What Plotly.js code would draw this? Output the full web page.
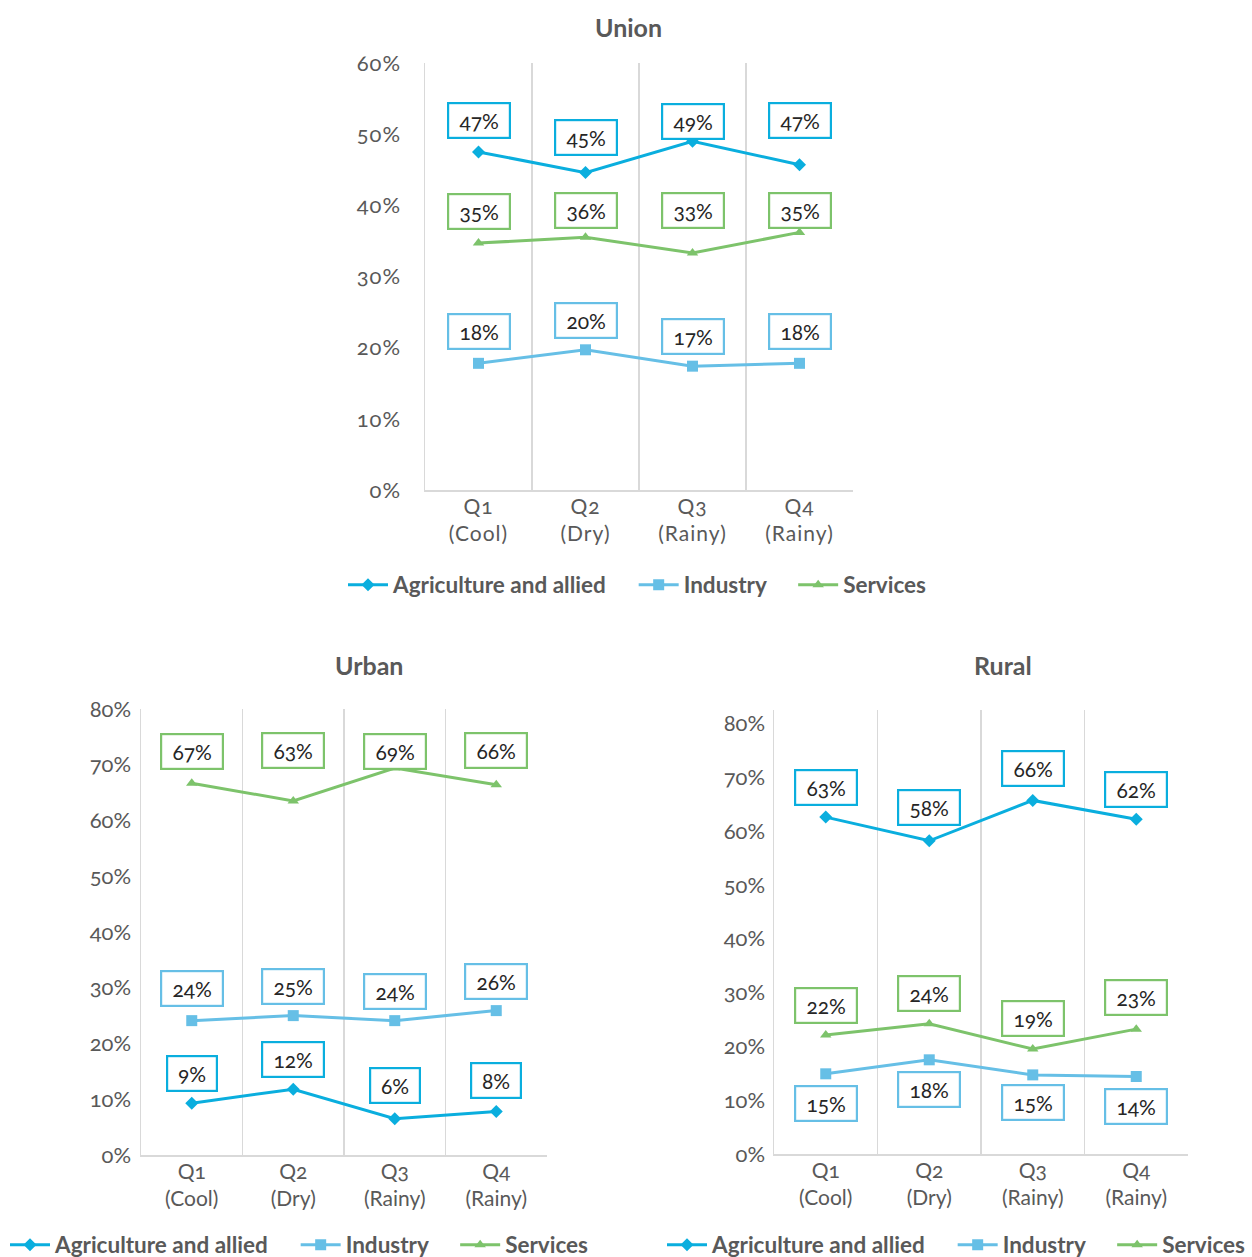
<!DOCTYPE html>
<html><head><meta charset="utf-8">
<script src="https://cdn.plot.ly/plotly-3.0.1.min.js"></script>
<style>
html,body{margin:0;padding:0;background:#fff;}
#chart{width:1252px;height:1257px;}
.js-plotly-plot text{font-feature-settings:"onum" 1;}
.js-plotly-plot .xtick text, .js-plotly-plot .ytick text{letter-spacing:1px;}
</style></head><body><div id="chart"></div>
<script>
// ---------- DATA ----------
const categories = ["Q1<br>(Cool)", "Q2<br>(Dry)", "Q3<br>(Rainy)", "Q4<br>(Rainy)"];
const seriesNames = ["Agriculture and allied", "Industry", "Services"];
const panelTitles = ["Union", "Urban", "Rural"];

// Union
const unionAgri = [47.5, 44.6, 49.0, 45.7];
const unionIndustry = [17.8, 19.7, 17.4, 17.8];
const unionServices = [34.7, 35.5, 33.3, 36.2];
const unionAgriLabels = ["47%", "45%", "49%", "47%"];
const unionIndustryLabels = ["18%", "20%", "17%", "18%"];
const unionServicesLabels = ["35%", "36%", "33%", "35%"];

// Urban
const urbanAgri = [9.3, 11.8, 6.5, 7.8];
const urbanIndustry = [24.1, 25.0, 24.1, 25.9];
const urbanServices = [66.7, 63.5, 69.4, 66.4];
const urbanAgriLabels = ["9%", "12%", "6%", "8%"];
const urbanIndustryLabels = ["24%", "25%", "24%", "26%"];
const urbanServicesLabels = ["67%", "63%", "69%", "66%"];

// Rural
const ruralAgri = [62.6, 58.2, 65.7, 62.2];
const ruralIndustry = [14.9, 17.5, 14.7, 14.4];
const ruralServices = [22.1, 24.2, 19.5, 23.2];
const ruralAgriLabels = ["63%", "58%", "66%", "62%"];
const ruralIndustryLabels = ["15%", "18%", "15%", "14%"];
const ruralServicesLabels = ["22%", "24%", "19%", "23%"];

// ---------- STYLE ----------
const colors = ["#0AAEDE", "#66BFE6", "#7DC36B"];
const symbols = ["diamond", "square", "triangle-up"];
const markerSizes = [10, 11, 10];
const FONT = "Lato, 'Open Sans', sans-serif";
const TICKC = "#595959";
const GRID = "#D9D9D9";
const PAD = "&nbsp;&nbsp;&nbsp;&nbsp;";

// label box vertical offsets (px, positive = above point)
const shifts = [
  [[31, 35, 20, 44], [32, 29, 30, 32], [32, 27, 43, 22]],
  [[30, 30, 33, 31], [32, 29, 29, 29], [32, 50, 17, 34]],
  [[30, 33, 32, 30], [-30, -30, -28, -30], [30, 30, 31, 32]]
];

const panels = [
  {vals: [unionAgri, unionIndustry, unionServices], labels: [unionAgriLabels, unionIndustryLabels, unionServicesLabels], range: [0, 60], legend: "legend"},
  {vals: [urbanAgri, urbanIndustry, urbanServices], labels: [urbanAgriLabels, urbanIndustryLabels, urbanServicesLabels], range: [0, 80], legend: "legend2"},
  {vals: [ruralAgri, ruralIndustry, ruralServices], labels: [ruralAgriLabels, ruralIndustryLabels, ruralServicesLabels], range: [0, 82.5], legend: "legend3"}
];

const W = 1252, H = 1257;
const px = v => v / W;
const py = v => 1 - v / H;
// pixel boxes [left, right, top, bottom]
const boxes = [[425, 853, 63, 490], [141, 547, 709, 1155], [774, 1188, 710, 1154]];
const standoffs = [18, 4, 3];
const titlePos = [[629, 27], [369, 665], [1003, 665]];
const legendPos = [[343, 585], [5, 1245], [662, 1245]];

const traces = [];
const annotations = [];
const layout = {
  width: W, height: H,
  margin: {l: 0, r: 0, t: 0, b: 0, autoexpand: false},
  paper_bgcolor: "#fff", plot_bgcolor: "#fff",
  font: {family: FONT, color: TICKC},
  showlegend: true,
  annotations: annotations
};

panels.forEach((p, k) => {
  const n = k === 0 ? "" : String(k + 1);
  const b = boxes[k];
  layout["xaxis" + n] = {
    domain: [px(b[0]), px(b[1])], anchor: "y" + n,
    type: "category", tickson: "boundaries", range: [-0.5, 3.5],
    showgrid: true, gridcolor: GRID, gridwidth: 1.5,
    showline: true, linecolor: GRID, linewidth: 1.5, mirror: false,
    ticks: "", ticklabelstandoff: -3, tickfont: {size: 21, color: TICKC, family: FONT},
    fixedrange: true, zeroline: false, automargin: false
  };
  layout["yaxis" + n] = {
    domain: [py(b[3]), py(b[2])], anchor: "x" + n,
    range: p.range, tickmode: "linear", tick0: 0, dtick: 10,
    ticksuffix: "%", showgrid: false, zeroline: false,
    showline: true, linecolor: GRID, linewidth: 1.5,
    ticks: "", ticklabelstandoff: standoffs[k],
    tickfont: {size: 22, color: TICKC, family: FONT}, fixedrange: true, automargin: false
  };
  const lp = legendPos[k];
  layout[p.legend] = {
    orientation: "h", x: px(lp[0]), y: py(lp[1]), xanchor: "left", yanchor: "middle",
    font: {size: 22.5, color: TICKC, family: FONT, weight: 700},
    bgcolor: "rgba(0,0,0,0)", itemwidth: 40, tracegroupgap: 0
  };
  p.vals.forEach((v, s) => {
    traces.push({
      type: "scatter", mode: "lines+markers",
      x: categories, y: v, name: seriesNames[s] + (s < seriesNames.length - 1 ? PAD : ""),
      xaxis: "x" + n, yaxis: "y" + n, legend: p.legend,
      line: {color: colors[s], width: 3},
      marker: {color: colors[s], symbol: symbols[s], size: markerSizes[s]},
      hoverinfo: "skip"
    });
    v.forEach((val, i) => {
      annotations.push({
        xref: "x" + n, yref: "y" + n, x: i, y: val,
        text: "&nbsp;" + p.labels[s][i] + "&nbsp;", showarrow: false,
        yshift: shifts[k][s][i],
        font: {size: 21, color: "#262626", family: FONT},
        bordercolor: colors[s], borderwidth: 2.2, borderpad: 4, bgcolor: "#fff"
      });
    });
  });
  annotations.push({
    xref: "paper", yref: "paper", x: px(titlePos[k][0]), y: py(titlePos[k][1]),
    xanchor: "center", yanchor: "middle", showarrow: false,
    text: "<b>" + panelTitles[k] + "</b>",
    font: {size: 25, color: TICKC, family: FONT}
  });
});

Plotly.newPlot("chart", traces, layout, {displayModeBar: false, staticPlot: true});
</script></body></html>
